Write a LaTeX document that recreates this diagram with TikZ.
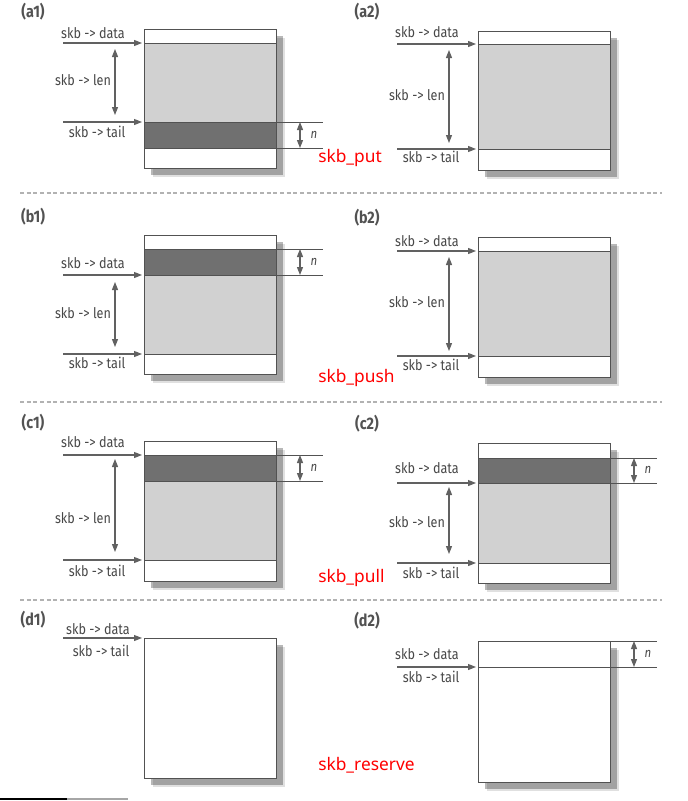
\documentclass[tikz,border=0pt]{standalone}
\usepackage{fontspec}
\usepackage{tikz}
\usetikzlibrary{arrows.meta,shadows}
\newfontfamily\lblfont[FakeStretch=0.86]{Fira Sans}
\newfontfamily\opfont{Noto Sans}

\begin{document}
\begin{tikzpicture}[x=0.75pt,y=-0.75pt,>={Triangle[length=6pt,width=4.5pt]},
 buf/.style={fill=white,
  drop shadow={shadow xshift=6.5pt,shadow yshift=-6.5pt,fill=black,opacity=.12},
  drop shadow={shadow xshift=5pt,shadow yshift=-5pt,fill=black,opacity=.28}},
 lite/.style={fill=black!18},
 dark/.style={fill=black!56},
 edge/.style={draw=black!68,line width=.6pt},
 ptr/.style={->,draw=black!62,line width=.8pt},
 len/.style={<->,draw=black!62,line width=.8pt},
 lbl/.style={font=\lblfont\fontsize{11}{12}\selectfont,text=black!72,inner sep=0},
 nlbl/.style={font=\lblfont\itshape\fontsize{10}{12}\selectfont,text=black!72,inner sep=0},
 tag/.style={font=\lblfont\bfseries\fontsize{12.5}{14}\selectfont,text=black!68,inner sep=0},
 op/.style={font=\opfont\fontsize{13}{15}\selectfont,text=red,anchor=west,inner sep=0},
 cut/.style={draw=black!30,dash pattern=on 3pt off 2pt,line width=.8pt}]
\useasboundingbox (0,0) rectangle (688,801);

% separators between the four rows
\foreach \y in {193,402,600} \draw[cut] (20,\y) -- (662,\y);
\draw[black,line width=1pt] (0,799) -- (67,799);
\draw[black!35,line width=.8pt] (67,799) -- (128,799);

% ---------- (a) skb_put ----------
\begin{scope}[name prefix=a1-]
\node[tag] (tag) at (33,12) {(a1)};
\draw[buf] (144,29) rectangle (276,168);
\fill[lite] (144,43) rectangle (276,122);
\fill[dark] (144,122) rectangle (276,148);
\draw[edge] (144,29) rectangle (276,168);
\draw[edge] (144,43) -- (276,43) (144,122) -- (323,122) (144,148) -- (323,148);
\foreach \y/\n in {43/d,122/t} {
 \coordinate (\n0) at (63,\y); \coordinate (\n1) at (142,\y);
 \draw[ptr] (\n0) -- (\n1);}
\coordinate (l0) at (115,49); \coordinate (l1) at (115,115);
\draw[len] (l0) -- (l1);
\coordinate (n0) at (300,122); \coordinate (n1) at (300,148);
\draw[len] (n0) -- (n1);
\node[nlbl] (n) at (314,135) {n};
\node[lbl] (data) at (93,33) {skb -> data};
\node[lbl] (lenlbl) at (83,80) {skb -> len};
\node[lbl] (tail) at (97,132) {skb -> tail};
\node[op] (put) at (318,158) {skb\_put};
\end{scope}

\begin{scope}[shift={(334,0)},name prefix=a2-]
\node[tag] (tag) at (33,12) {(a2)};
\draw[buf] (144,31) rectangle (276,170);
\fill[lite] (144,44) rectangle (276,149);
\draw[edge] (144,31) rectangle (276,170);
\draw[edge] (144,44) -- (276,44) (144,149) -- (276,149);
\foreach \y/\n in {44/d,149/t} {
 \coordinate (\n0) at (63,\y); \coordinate (\n1) at (142,\y);
 \draw[ptr] (\n0) -- (\n1);}
\coordinate (l0) at (115,50); \coordinate (l1) at (115,143);
\draw[len] (l0) -- (l1);
\node[lbl] (data) at (93,32) {skb -> data};
\node[lbl] (lenlbl) at (83,95) {skb -> len};
\node[lbl] (tail) at (97,157) {skb -> tail};
\end{scope}

% ---------- (b) skb_push ----------
\begin{scope}[name prefix=b1-]
\node[tag] (tag) at (33,217) {(b1)};
\draw[buf] (144,235) rectangle (276,374);
\fill[dark] (144,249) rectangle (276,275);
\fill[lite] (144,275) rectangle (276,354);
\draw[edge] (144,235) rectangle (276,374);
\draw[edge] (144,249) -- (323,249) (144,275) -- (323,275) (144,354) -- (276,354);
\foreach \y/\n in {275/d,354/t} {
 \coordinate (\n0) at (63,\y); \coordinate (\n1) at (142,\y);
 \draw[ptr] (\n0) -- (\n1);}
\coordinate (l0) at (115,282); \coordinate (l1) at (115,347);
\draw[len] (l0) -- (l1);
\coordinate (n0) at (300,249); \coordinate (n1) at (300,275);
\draw[len] (n0) -- (n1);
\node[nlbl] (n) at (314,262) {n};
\node[lbl] (data) at (93,263) {skb -> data};
\node[lbl] (lenlbl) at (83,313) {skb -> len};
\node[lbl] (tail) at (97,363) {skb -> tail};
\node[op] (push) at (318,378) {skb\_push};
\end{scope}

\begin{scope}[shift={(334,0)},name prefix=b2-]
\node[tag] (tag) at (33,218) {(b2)};
\draw[buf] (144,237) rectangle (276,377);
\fill[lite] (144,251) rectangle (276,356);
\draw[edge] (144,237) rectangle (276,377);
\draw[edge] (144,251) -- (276,251) (144,356) -- (276,356);
\foreach \y/\n in {251/d,356/t} {
 \coordinate (\n0) at (63,\y); \coordinate (\n1) at (142,\y);
 \draw[ptr] (\n0) -- (\n1);}
\coordinate (l0) at (115,257); \coordinate (l1) at (115,351);
\draw[len] (l0) -- (l1);
\node[lbl] (data) at (93,241) {skb -> data};
\node[lbl] (lenlbl) at (83,302) {skb -> len};
\node[lbl] (tail) at (97,365) {skb -> tail};
\end{scope}

% ---------- (c) skb_pull ----------
\begin{scope}[name prefix=c1-]
\node[tag] (tag) at (33,423) {(c1)};
\draw[buf] (144,441) rectangle (276,581);
\fill[dark] (144,455) rectangle (276,481);
\fill[lite] (144,481) rectangle (276,560);
\draw[edge] (144,441) rectangle (276,581);
\draw[edge] (144,455) -- (323,455) (144,481) -- (323,481) (144,560) -- (276,560);
\foreach \y/\n in {455/d,560/t} {
 \coordinate (\n0) at (63,\y); \coordinate (\n1) at (142,\y);
 \draw[ptr] (\n0) -- (\n1);}
\coordinate (l0) at (115,459); \coordinate (l1) at (115,552);
\draw[len] (l0) -- (l1);
\coordinate (n0) at (300,455); \coordinate (n1) at (300,481);
\draw[len] (n0) -- (n1);
\node[nlbl] (n) at (314,468) {n};
\node[lbl] (data) at (93,442) {skb -> data};
\node[lbl] (lenlbl) at (83,518) {skb -> len};
\node[lbl] (tail) at (97,571) {skb -> tail};
\node[op] (pull) at (318,578) {skb\_pull};
\end{scope}

\begin{scope}[shift={(334,0)},name prefix=c2-]
\node[tag] (tag) at (33,424) {(c2)};
\draw[buf] (144,443) rectangle (276,583);
\fill[dark] (144,458) rectangle (276,483);
\fill[lite] (144,483) rectangle (276,563);
\draw[edge] (144,443) rectangle (276,583);
\draw[edge] (144,458) -- (323,458) (144,483) -- (323,483) (144,563) -- (276,563);
\foreach \y/\n in {483/d,563/t} {
 \coordinate (\n0) at (63,\y); \coordinate (\n1) at (142,\y);
 \draw[ptr] (\n0) -- (\n1);}
\coordinate (l0) at (115,487); \coordinate (l1) at (115,554);
\draw[len] (l0) -- (l1);
\coordinate (n0) at (300,458); \coordinate (n1) at (300,483);
\draw[len] (n0) -- (n1);
\node[nlbl] (n) at (314,470) {n};
\node[lbl] (data) at (93,468) {skb -> data};
\node[lbl] (lenlbl) at (83,522) {skb -> len};
\node[lbl] (tail) at (97,573) {skb -> tail};
\end{scope}

% ---------- (d) skb_reserve ----------
\begin{scope}[name prefix=d1-]
\node[tag] (tag) at (33,620) {(d1)};
\draw[buf] (144,638) rectangle (276,778);
\draw[edge] (144,638) rectangle (276,778);
\coordinate (d0) at (63,638); \coordinate (d1) at (142,638);
\draw[ptr] (d0) -- (d1);
\node[lbl] (data) at (98,629) {skb -> data};
\node[lbl] (tail) at (101,651) {skb -> tail};
\node[op] (reserve) at (318,765) {skb\_reserve};
\end{scope}

\begin{scope}[shift={(334,0)},name prefix=d2-]
\node[tag] (tag) at (33,621) {(d2)};
\draw[buf] (144,641) rectangle (276,782);
\draw[edge] (144,641) rectangle (276,782);
\draw[edge] (276,641) -- (323,641) (144,667) -- (323,667);
\coordinate (d0) at (63,667); \coordinate (d1) at (142,667);
\draw[ptr] (d0) -- (d1);
\coordinate (n0) at (300,641); \coordinate (n1) at (300,667);
\draw[len] (n0) -- (n1);
\node[nlbl] (n) at (314,654) {n};
\node[lbl] (data) at (93,654) {skb -> data};
\node[lbl] (tail) at (97,677) {skb -> tail};
\end{scope}
\end{tikzpicture}
\end{document}
